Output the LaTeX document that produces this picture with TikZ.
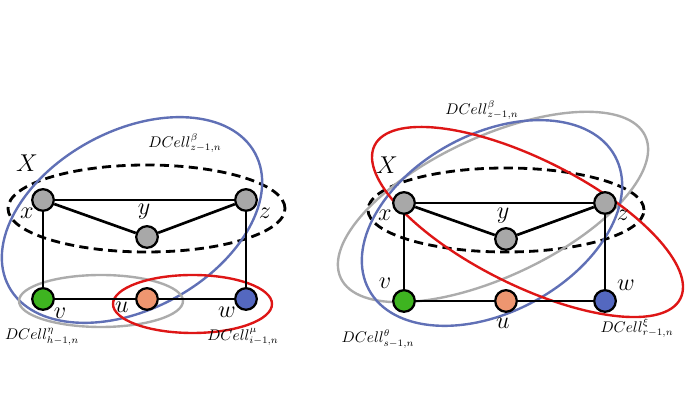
\documentclass[tikz,border=0pt]{standalone}
\usepackage{tikz}
\usetikzlibrary{shapes,arrows}
\definecolor{nodegray}{RGB}{168,168,168}
\definecolor{nodegreen}{RGB}{62,180,32}
\definecolor{nodeorange}{RGB}{238,150,112}
\definecolor{nodeblue}{RGB}{84,104,192}
\definecolor{cellblue}{RGB}{96,112,182}
\definecolor{cellred}{RGB}{222,22,22}
\definecolor{cellgray}{RGB}{172,172,172}
\tikzset{%
	vertex/.style   = {draw, circle, line width=1.6pt, minimum size=0.54cm,
		inner sep=0pt},
	edge/.style     = {line width=1.9pt}, % Link
	cell/.style     = {line width=1.7pt}, % DCell
	group/.style    = {line width=2pt, dash pattern=on 6.5pt off 3.8pt}, % X
	letter/.style   = {font=\fontsize{18}{20}\selectfont},
	cellname/.style = {font=\fontsize{10.5}{12}\selectfont}
}

\begin{document}
\begin{tikzpicture}[x=0.025cm,y=0.025cm]
			\useasboundingbox (0,0) rectangle (686,419);
			
			% left
			\draw[group] (146.5,210.5) ellipse [x radius=138.5, y radius=43.5];
			\draw[cell,cellblue,rotate around={28.5:(132,199)}] (132,199) ellipse [x radius=140, y radius=89];
			\draw[cell,cellgray] (101,118) ellipse [x radius=82, y radius=26];
			\draw[cell,cellred] (192.5,115) ellipse [x radius=79.5, y radius=29];
			
			\node[vertex,fill=nodegray] (x1) at (43,219) {};
			\node[vertex,fill=nodegray] (y1) at (147,182) {};
			\node[vertex,fill=nodegray] (z1) at (246,219) {};
			\node[vertex,fill=nodegreen] (v1) at (43,120) {};
			\node[vertex,fill=nodeorange] (u1) at (147,120) {};
			\node[vertex,fill=nodeblue] (w1) at (246,120) {};
			
			\draw[edge] (x1) -- (z1);
			\draw[edge] (x1) -- (y1) -- (z1);
			\draw[edge] (x1) -- (v1);
			\draw[edge] (z1) -- (w1);
			\draw[edge] (v1) -- (u1) -- (w1);
			
			\node[letter] (X1) at (27,256) {$X$};
			\node[letter] (lx1) at (27,206) {$x$};
			\node[letter] (ly1) at (144,207) {$y$};
			\node[letter] (lz1) at (265,206) {$z$};
			\node[letter] (lv1) at (60,106) {$v$};
			\node[letter] (lu1) at (122,112) {$u$};
			\node[letter] (lw1) at (227,107) {$w$};
			\node[cellname] (beta1) at (185,276) {$DCell^{\beta}_{z-1,n}$};
			\node[cellname] (eta1) at (42,82) {$DCell^{\eta}_{h-1,n}$};
			\node[cellname] (mu1) at (243,82) {$DCell^{\mu}_{i-1,n}$};
			
			% right
			\draw[group] (506,209) ellipse [x radius=138, y radius=42];
			\draw[cell,cellgray,rotate around={25:(493,212)}] (493,212) ellipse [x radius=168, y radius=70];
			\draw[cell,cellblue,rotate around={28.5:(492,196)}] (492,196) ellipse [x radius=140, y radius=89];
			\draw[cell,cellred,rotate around={-26.6:(527.5,197)}] (527.5,197) ellipse [x radius=171, y radius=63];
			
			\node[vertex,fill=nodegray] (x2) at (404,216) {};
			\node[vertex,fill=nodegray] (y2) at (506,180) {};
			\node[vertex,fill=nodegray] (z2) at (605,216) {};
			\node[vertex,fill=nodegreen] (v2) at (404,118) {};
			\node[vertex,fill=nodeorange] (u2) at (506,118) {};
			\node[vertex,fill=nodeblue] (w2) at (605,118) {};
			
			\draw[edge] (x2) -- (z2);
			\draw[edge] (x2) -- (y2) -- (z2);
			\draw[edge] (x2) -- (v2);
			\draw[edge] (z2) -- (w2);
			\draw[edge] (v2) -- (u2) -- (w2);
			
			\node[letter] (X2) at (387,254) {$X$};
			\node[letter] (lx2) at (385,204) {$x$};
			\node[letter] (ly2) at (503,203) {$y$};
			\node[letter] (lz2) at (623,204) {$z$};
			\node[letter] (lv2) at (385,136) {$v$};
			\node[letter] (lu2) at (503,96) {$u$};
			\node[letter] (lw2) at (626,134) {$w$};
			\node[cellname] (beta2) at (482,309) {$DCell^{\beta}_{z-1,n}$};
			\node[cellname] (theta2) at (378,80) {$DCell^{\theta}_{s-1,n}$};
			\node[cellname] (xi2) at (637,91) {$DCell^{\xi}_{r-1,n}$};
		\end{tikzpicture}
\end{document}
